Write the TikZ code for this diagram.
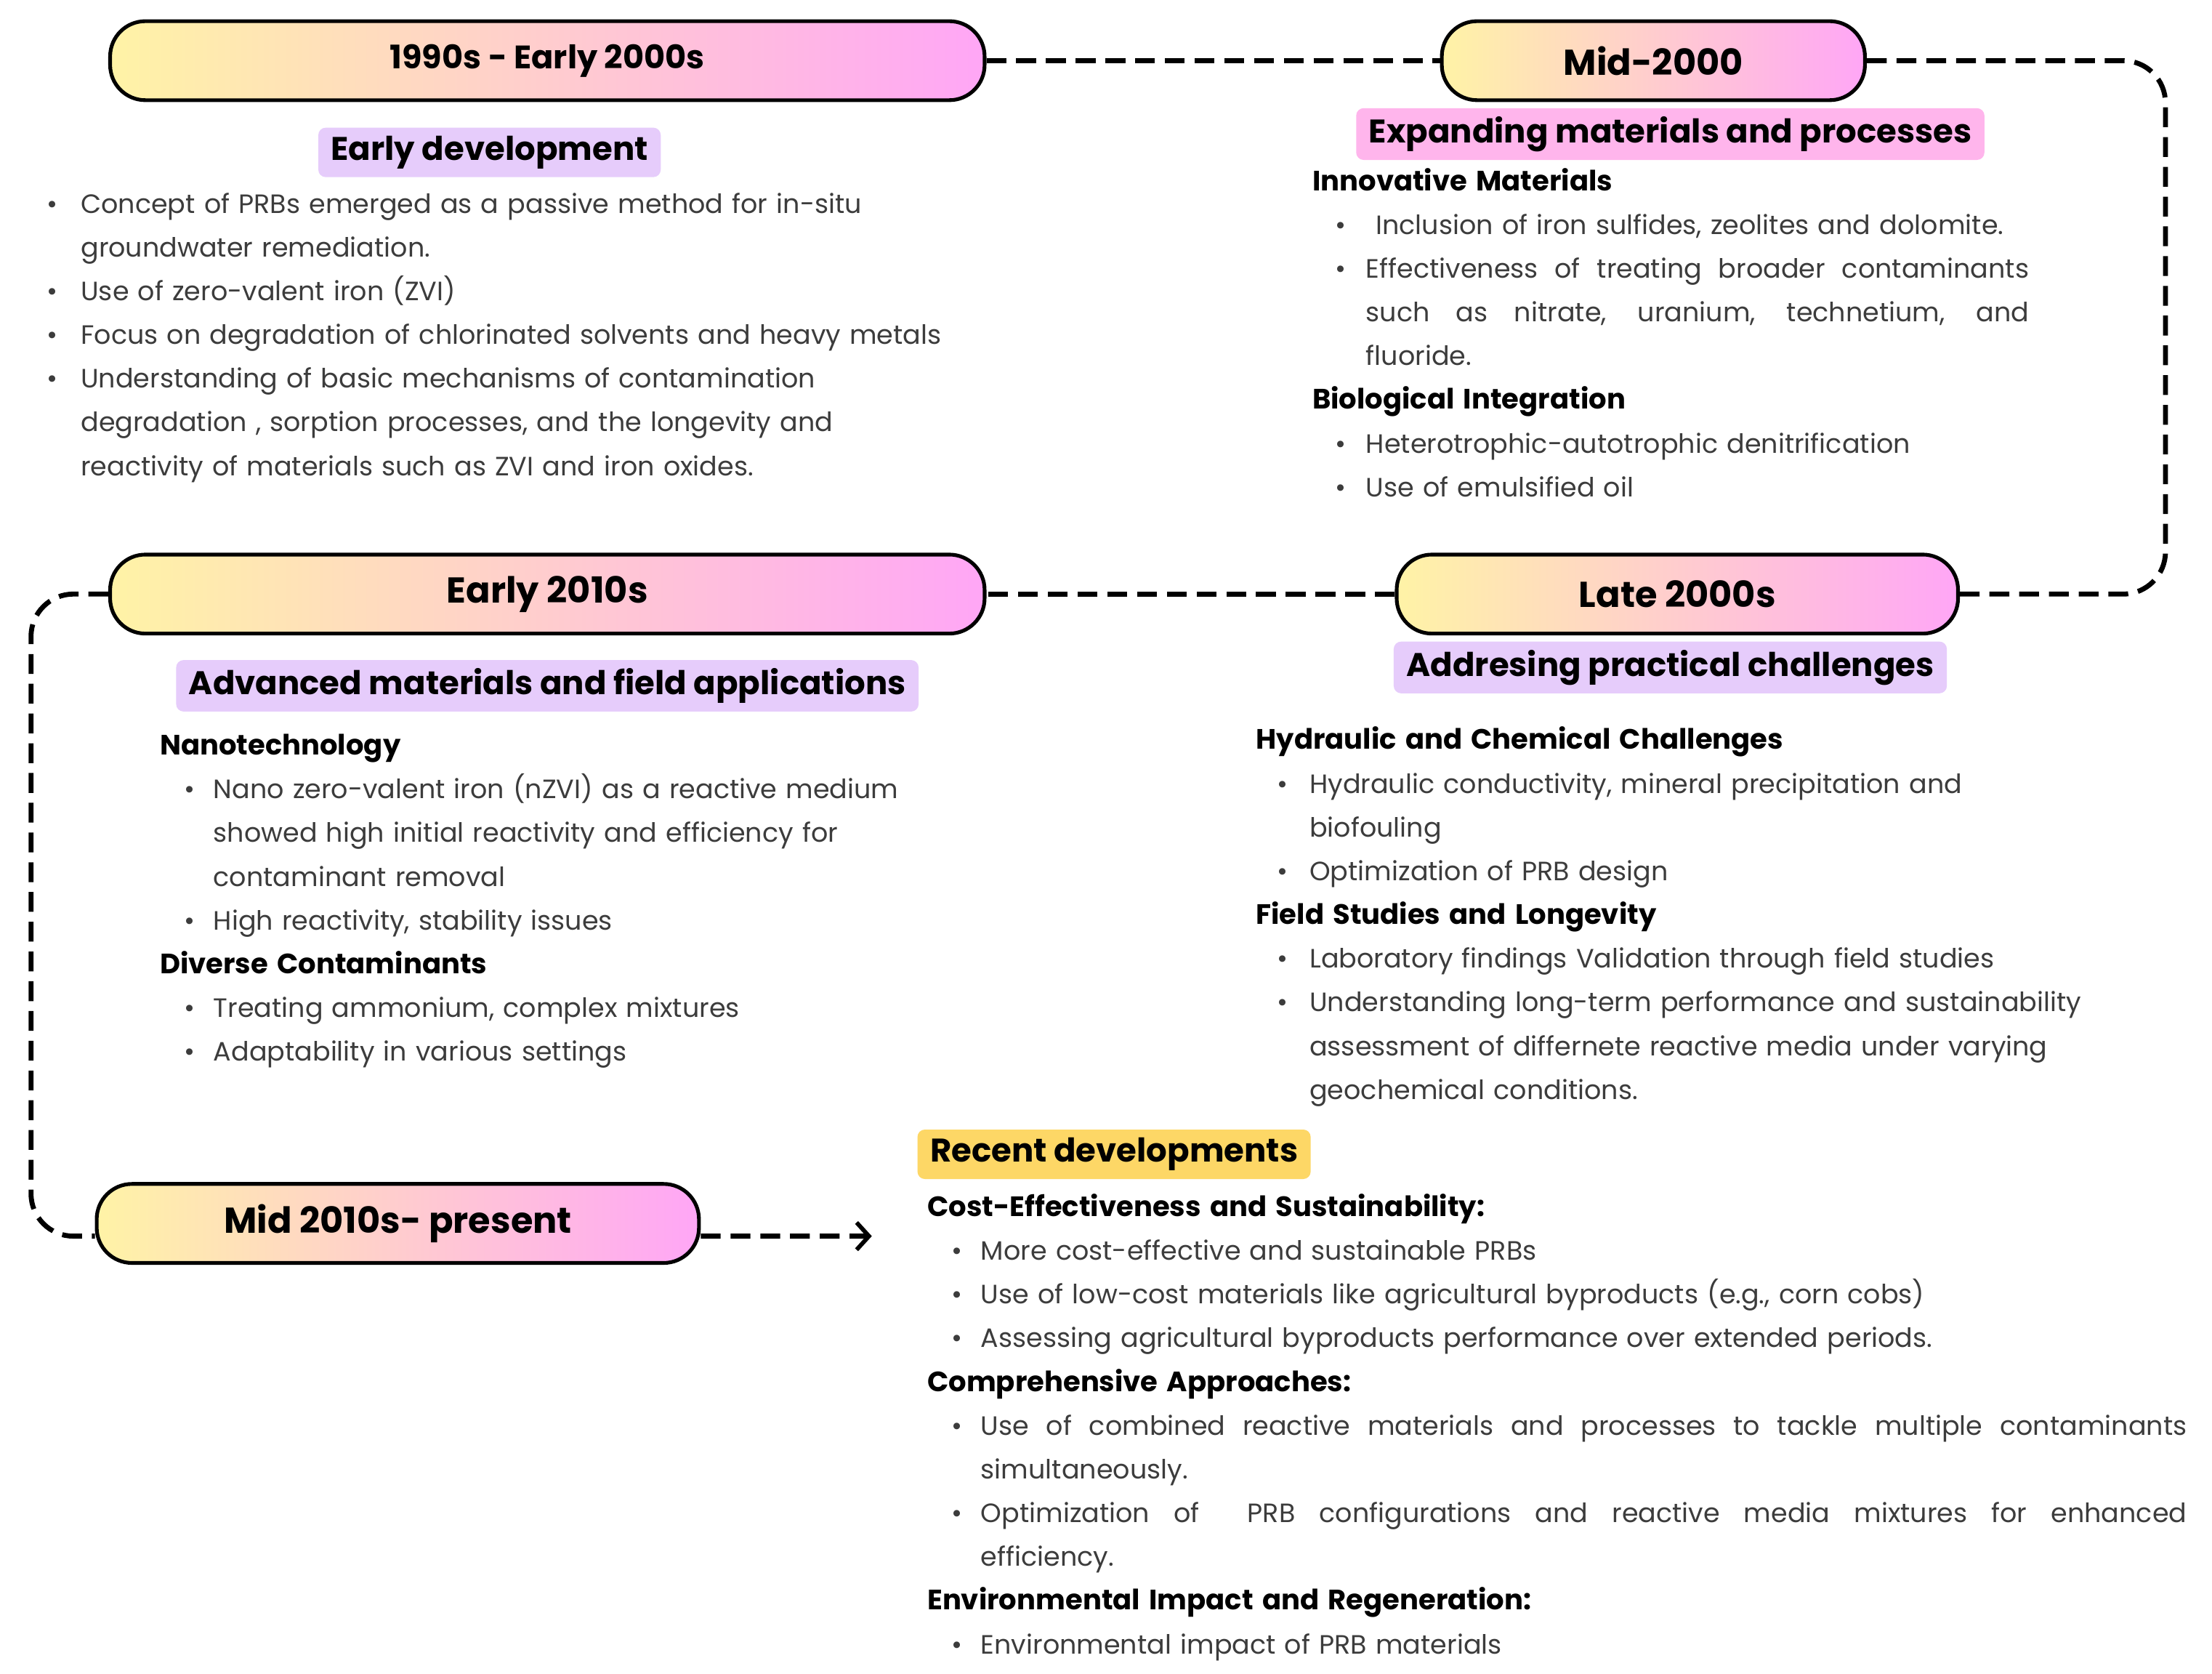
\documentclass[tikz,border=0pt]{standalone}
\usepackage{fontspec}
\setmainfont{Poppins}
\usetikzlibrary{arrows.meta,positioning}
\definecolor{pillY}{HTML}{FFF3A6}
\definecolor{pillP}{HTML}{FFA6F6}
\definecolor{lav}{HTML}{E6CCFB}
\definecolor{pnk}{HTML}{FFB5EC}
\definecolor{ylw}{HTML}{FDD766}
\definecolor{txt}{HTML}{3C3C3C}
\newlength\bi
\newlength\ti
\newcommand{\bul}{\hspace*{\bi}\makebox[\ti][l]{\textbullet}}
\newcommand{\cnt}{\hspace*{\bi}\hspace*{\ti}}
\newcommand{\hd}[1]{{\bfseries\fontsize{11.3}{17.64}\selectfont\color{black}#1}}
\newcommand{\jst}[2]{\hbox to #1{\spaceskip=\fontdimen2\font plus 1fil\relax #2}}
\begin{document}
\begin{tikzpicture}[x=0.02cm,y=-0.02cm,
	pill/.style={draw,line width=1.5pt,rounded corners=0.5cm,left color=pillY,right color=pillP,minimum height=1.12cm,font=\bfseries\fontsize{14.5}{16}\selectfont},
	tag/.style={rounded corners=3pt,minimum height=0.68cm,inner xsep=0.18cm,font=\bfseries\fontsize{13.2}{15}\selectfont},
	body/.style={anchor=base west,inner sep=0,text width=20cm,align=left,text=txt,font=\fontsize{10.7}{17.64}\selectfont},
	conn/.style={line width=2pt,dash pattern=on 8pt off 4pt,rounded corners=0.6cm}]
		\fill[white] (0,0) rectangle (1568,1186);
		\useasboundingbox (0,0) rectangle (1568,1186);
		\node[pill,minimum width=12.4cm,font=\bfseries\fontsize{13.1}{15}\selectfont] (p1) at (388,43) {1990s - Early 2000s};
		\node[pill,minimum width=6cm] (p2) at (1172,43) {Mid-2000};
		\node[pill,minimum width=12.4cm] (p3) at (388,421) {Early 2010s};
		\node[pill,minimum width=7.96cm] (p4) at (1189,421) {Late 2000s};
		\node[pill,minimum width=8.54cm] (p5) at (282,867) {Mid 2010s- present};
		\node[tag,fill=lav] (t1) at (347,108) {Early development};
		\node[tag,fill=pnk] (t2) at (1184,95) {Expanding materials and processes};
		\node[tag,fill=lav] (t3) at (388,486) {Advanced materials and field applications};
		\node[tag,fill=lav] (t4) at (1184,473) {Addresing practical challenges};
		\node[tag,fill=ylw,anchor=west] (t5) at (650,818) {Recent developments};
		\node[body] (b1) at (33,151) {\setlength\bi{0pt}\setlength\ti{0.48cm}%
			\bul Concept of PRBs emerged as a passive method for in-situ\\
			\cnt groundwater remediation.\\
			\bul Use of zero-valent iron (ZVI)\\
			\bul Focus on degradation of chlorinated solvents and heavy metals\\
			\bul Understanding of basic mechanisms of contamination\\
			\cnt degradation , sorption processes, and the longevity and\\
			\cnt reactivity of materials such as ZVI and iron oxides.};
		\node[body] (b2) at (930,135) {\setlength\bi{0.32cm}\setlength\ti{0.44cm}%
			\hd{Innovative Materials}\\
			\bul\hspace{0.14cm}Inclusion of iron sulfides, zeolites and dolomite.\\
			\bul\jst{9.4cm}{Effectiveness of treating broader contaminants}\\
			\cnt\jst{9.4cm}{such as nitrate, uranium, technetium, and}\\
			\cnt fluoride.\\
			\hd{Biological Integration}\\
			\bul Heterotrophic-autotrophic denitrification\\
			\bul Use of emulsified oil};
		\node[body] (b3) at (113,535) {\setlength\bi{0.34cm}\setlength\ti{0.42cm}%
			\hd{Nanotechnology}\\
			\bul Nano zero-valent iron (nZVI) as a reactive medium\\
			\cnt showed high initial reactivity and efficiency for\\
			\cnt contaminant removal\\
			\bul High reactivity, stability issues\\
			\hd{Diverse Contaminants}\\
			\bul Treating ammonium, complex mixtures\\
			\bul Adaptability in various settings};
		\node[body] (b4) at (890,531) {\setlength\bi{0.3cm}\setlength\ti{0.46cm}%
			\hd{Hydraulic and Chemical Challenges}\\
			\bul Hydraulic conductivity, mineral precipitation and\\
			\cnt biofouling\\
			\bul Optimization of PRB design\\
			\hd{Field Studies and Longevity}\\
			\bul Laboratory findings Validation through field studies\\
			\bul Understanding long-term performance and sustainability\\
			\cnt assessment of differnete reactive media under varying\\
			\cnt geochemical conditions.};
		\node[body] (b5) at (657,862) {\setlength\bi{0.34cm}\setlength\ti{0.42cm}%
			\hd{Cost-Effectiveness and Sustainability:}\\
			\bul More cost-effective and sustainable PRBs\\
			\bul Use of low-cost materials like agricultural byproducts (e.g., corn cobs)\\
			\bul Assessing agricultural byproducts performance over extended periods.\\
			\hd{Comprehensive Approaches:}\\
			\bul\jst{17.1cm}{Use of combined reactive materials and processes to tackle multiple contaminants}\\
			\cnt simultaneously.\\
			\bul\jst{17.1cm}{Optimization of \ PRB configurations and reactive media mixtures for enhanced}\\
			\cnt efficiency.\\
			\hd{Environmental Impact and Regeneration:}\\
			\bul Environmental impact of PRB materials};
		\coordinate (rt) at (1535,230);
		\coordinate (lt) at (22,650);
		\coordinate (ae) at (618,876);
		\draw[conn] (p1.east) -- (p2.west);
		\draw[conn] (p2.east) -| (rt) |- (p4.east);
		\draw[conn] (p4.west) -- (p3.east);
		\draw[conn] (p3.west) -| (lt) |- ([yshift=-0.18cm]p5.west);
		\draw[conn,-{Straight Barb[length=5pt,width=11pt,line width=1.7pt]}] ([yshift=-0.18cm]p5.east) -- (ae);
	\end{tikzpicture}
\end{document}
